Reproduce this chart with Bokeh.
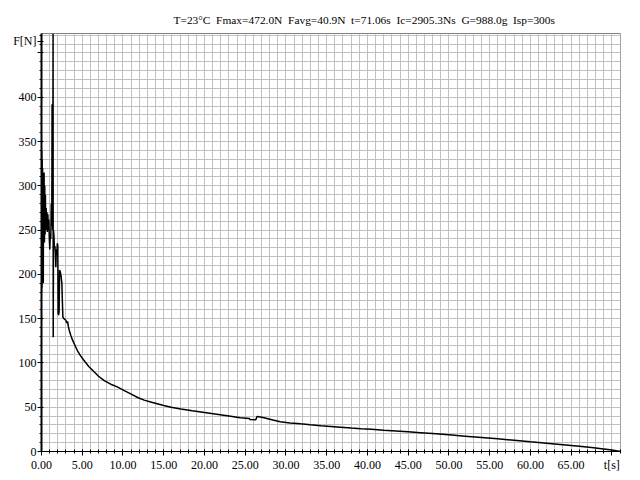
from bokeh.plotting import figure
from bokeh.models import Range1d, SingleIntervalTicker, FixedTicker, PrintfTickFormatter, LinearAxis, Grid, Title
from bokeh.embed import file_html
from bokeh.resources import INLINE

FONT = "Liberation Sans Narrow"

title_parts = ["T=23\u00b0C", "Fmax=472.0N", "Favg=40.9N", "t=71.06s", "Ic=2905.3Ns", "G=988.0g", "Isp=300s"]
title_text = "\u00a0 ".join(title_parts)
x_unit = "t[s]"
y_unit = "F[N]"

t_s = [0.00, 0.02, 0.05, 0.08, 0.10, 0.13, 0.16, 0.19, 0.22, 0.25, 0.28, 0.32, 0.36, 0.40, 0.44, 0.48,
       0.52, 0.57, 0.62, 0.67, 0.72, 0.78, 0.84, 0.90, 0.96, 1.02, 1.08, 1.14, 1.20, 1.26, 1.30, 1.34,
       1.38, 1.42, 1.44, 1.47, 1.52, 1.58, 1.64, 1.70, 1.76, 1.82, 1.88, 1.94, 2.00, 2.04, 2.10, 2.16,
       2.22, 2.30, 2.40, 2.50, 2.56, 2.62, 2.75, 2.90, 3.00, 3.10, 3.20, 3.30, 3.40, 3.60, 3.80, 4.10,
       4.40, 4.80, 5.20, 5.80, 6.45, 7.00, 7.70, 8.50, 9.30, 10.10, 10.95, 11.80, 12.60, 13.40, 14.20,
       15.00, 15.90, 17.10, 18.50, 20.00, 21.50, 23.00, 24.40, 25.50, 25.60, 26.30, 26.45, 26.70, 27.30,
       28.40, 29.30, 30.50, 31.80, 33.00, 34.30, 35.50, 36.70, 38.00, 39.20, 40.50, 42.00, 43.50, 45.00,
       46.50, 48.00, 50.00, 52.00, 54.00, 56.00, 58.00, 60.00, 62.00, 64.00, 66.00, 67.50, 69.00, 70.00,
       71.06]
force_n = [180, 340, 185, 330, 200, 320, 215, 300, 190, 310, 240, 315, 236, 300, 245, 290,
           250, 275, 255, 270, 248, 268, 250, 262, 240, 228, 245, 240, 280, 255, 392, 265,
           250, 472, 129, 250, 245, 230, 232, 225, 208, 228, 222, 235, 233, 156, 154, 158,
           205, 203, 198, 190, 170, 152, 150, 149, 148, 145, 147, 141, 137, 131, 126, 120,
           114, 108, 103, 96, 90, 85, 80, 76, 73, 69, 65, 61, 58, 56, 54,
           52, 50, 48, 46, 44, 42, 40, 38, 37.3, 36, 35.9, 39.6, 39.2, 38,
           35.5, 33.5, 32.3, 31.2, 30.2, 29.2, 28.3, 27.4, 26.4, 25.6, 25.0, 24.0, 23.1, 22.2,
           21.2, 20.2, 18.8, 17.3, 15.8, 14.3, 12.7, 11.0, 9.4, 7.7, 5.9, 4.5, 2.9, 1.7,
           0.0]

x_max = 71.06
y_max = 472.0
y_major = [0, 50, 100, 150, 200, 250, 300, 350, 400, 450]
y_minor = [v for v in range(10, 471, 10) if v % 50 != 0]
y_unit_pos = 463

p = figure(width=640, height=480, output_backend="svg", toolbar_location=None,
           x_range=Range1d(0, x_max), y_range=Range1d(0, y_max),
           x_axis_type=None, y_axis_type=None,
           min_border_left=41, min_border_right=20, min_border_top=33, min_border_bottom=29)
p.background_fill_color = "white"
p.border_fill_color = "white"
p.outline_line_color = "#808080"
p.outline_line_width = 1

p.add_layout(Title(text=title_text, align="left", offset=132, standoff=15,
                   text_font=FONT, text_font_size="11.4px", text_font_style="normal",
                   text_color="black"), "above")

xaxis = LinearAxis(ticker=SingleIntervalTicker(interval=5, num_minor_ticks=5),
                   formatter=PrintfTickFormatter(format="%.2f"))
xaxis.major_label_overrides = {70: x_unit}
yaxis = LinearAxis(ticker=FixedTicker(ticks=y_major + [y_unit_pos], minor_ticks=y_minor))
yaxis.major_label_overrides = {450: "", y_unit_pos: y_unit}
p.add_layout(xaxis, "below")
p.add_layout(yaxis, "left")

for ax in (xaxis, yaxis):
    ax.axis_line_color = "black"
    ax.major_tick_line_color = "black"
    ax.minor_tick_line_color = "black"
    ax.major_label_text_font = FONT
    ax.major_label_text_font_size = "12px"
    ax.major_label_text_color = "black"

xaxis.axis_line_width = 1
xaxis.major_tick_in = 2
xaxis.major_tick_out = 4
xaxis.minor_tick_in = 2
xaxis.minor_tick_out = 2
xaxis.major_label_standoff = 2

yaxis.axis_line_width = 2
yaxis.major_tick_in = 2
yaxis.major_tick_out = 4
yaxis.minor_tick_in = 0
yaxis.minor_tick_out = 2
yaxis.major_label_standoff = 1

xgrid = Grid(dimension=0, ticker=SingleIntervalTicker(interval=1), grid_line_color="#c0c0c0", grid_line_width=1)
ygrid = Grid(dimension=1, ticker=SingleIntervalTicker(interval=10), grid_line_color="#c0c0c0", grid_line_width=1)
p.add_layout(xgrid)
p.add_layout(ygrid)

p.line(t_s, force_n, line_color="black", line_width=1.5)

open("out.html", "w").write(file_html(p, INLINE))
